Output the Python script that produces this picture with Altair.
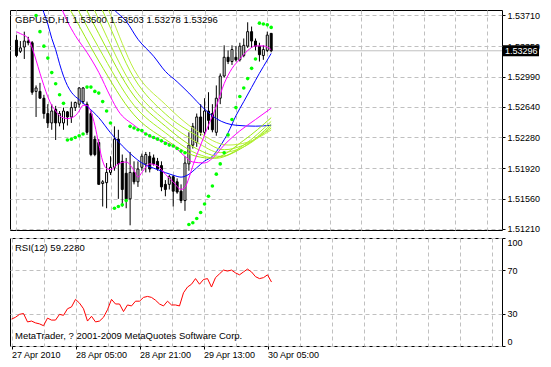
import altair as alt
import pandas as pd

symbol = "GBPUSD,H1"

opens = [1.5342, 1.5329, 1.5334, 1.5341, 1.5339, 1.5282, 1.5282, 1.5274, 1.5256, 1.5245,
         1.5261, 1.5245, 1.5245, 1.5258, 1.5252, 1.5263, 1.5267, 1.5270, 1.5267, 1.5256,
         1.5226, 1.5222, 1.5174, 1.5175, 1.5187, 1.5193, 1.5226, 1.5200, 1.5186, 1.5156,
         1.5187, 1.5176, 1.5193, 1.5197, 1.5206, 1.5204, 1.5200, 1.5195, 1.5173, 1.5173,
         1.5182, 1.5176, 1.5165, 1.5154, 1.5197, 1.5219, 1.5222, 1.5252, 1.5234, 1.5259,
         1.5256, 1.5234, 1.5274, 1.5300, 1.5322, 1.5317, 1.5322, 1.5319, 1.5324, 1.5335,
         1.5352, 1.5341, 1.5335, 1.5324, 1.5330, 1.53500]
highs = [1.5348, 1.5341, 1.5352, 1.5346, 1.5341, 1.5289, 1.5292, 1.5278, 1.5267, 1.5267,
         1.5265, 1.5259, 1.5263, 1.5259, 1.5270, 1.5270, 1.5287, 1.5287, 1.5270, 1.5259,
         1.5230, 1.5226, 1.5178, 1.5198, 1.5206, 1.5241, 1.5237, 1.5208, 1.5204, 1.5211,
         1.5200, 1.5200, 1.5209, 1.5211, 1.5211, 1.5208, 1.5204, 1.5200, 1.5178, 1.5184,
         1.5184, 1.5180, 1.5173, 1.5206, 1.5234, 1.5245, 1.5256, 1.5267, 1.5274, 1.5281,
         1.5267, 1.5289, 1.5303, 1.5336, 1.5330, 1.5336, 1.5335, 1.5339, 1.5344, 1.5363,
         1.5358, 1.5344, 1.5339, 1.5336, 1.5352, 1.53503]
lows = [1.5322, 1.5327, 1.5320, 1.5336, 1.5278, 1.5252, 1.5274, 1.5250, 1.5239, 1.5237,
        1.5225, 1.5241, 1.5237, 1.5242, 1.5245, 1.5259, 1.5263, 1.5267, 1.5231, 1.5206,
        1.5206, 1.5173, 1.5147, 1.5145, 1.5184, 1.5189, 1.5156, 1.5147, 1.5145, 1.5125,
        1.5173, 1.5170, 1.5189, 1.5187, 1.5187, 1.5195, 1.5189, 1.5165, 1.5159, 1.5167,
        1.5147, 1.5162, 1.5151, 1.5142, 1.5189, 1.5215, 1.5217, 1.5230, 1.5230, 1.5237,
        1.5234, 1.5230, 1.5267, 1.5298, 1.5314, 1.5313, 1.5317, 1.5317, 1.5322, 1.5333,
        1.5333, 1.5330, 1.5317, 1.5319, 1.5328, 1.53278]
closes = [1.5324, 1.5333, 1.5341, 1.5339, 1.5281, 1.5286, 1.5274, 1.5256, 1.5245, 1.5259,
          1.5245, 1.5256, 1.5259, 1.5252, 1.5263, 1.5269, 1.5286, 1.5286, 1.5234, 1.5208,
          1.5208, 1.5173, 1.5176, 1.5187, 1.5193, 1.5226, 1.5197, 1.5167, 1.5156, 1.5187,
          1.5176, 1.5191, 1.5206, 1.5208, 1.5191, 1.5197, 1.5191, 1.5170, 1.5167, 1.5182,
          1.5165, 1.5164, 1.5154, 1.5198, 1.5219, 1.5241, 1.5252, 1.5234, 1.5259, 1.5248,
          1.5237, 1.5274, 1.5300, 1.5322, 1.5317, 1.5331, 1.5319, 1.5335, 1.5336, 1.5352,
          1.5341, 1.5335, 1.5325, 1.5331, 1.5348, 1.53296]

rsi = [24.9, 26.6, 29.3, 30.1, 22.3, 23.1, 21.4, 20.5, 18.8, 25.8,
       24.0, 24.0, 29.3, 28.4, 34.5, 36.2, 43.2, 39.7, 34.5, 23.1,
       27.5, 22.3, 23.1, 26.6, 33.6, 43.2, 38.9, 38.9, 31.9, 38.0,
       37.1, 41.5, 41.5, 45.0, 45.9, 45.0, 42.4, 38.9, 37.1, 41.5,
       38.0, 38.0, 37.1, 49.3, 54.6, 57.2, 62.4, 57.2, 61.6, 62.4,
       54.6, 63.3, 66.8, 70.3, 69.4, 70.3, 67.7, 65.9, 68.6, 71.2,
       68.6, 64.2, 62.4, 63.3, 65.9, 59.228]

sar_first_bar = 5
sar = [1.5371, 1.5352, 1.5335, 1.5321, 1.5304, 1.5291, 1.5278, 1.5268, 1.5225, 1.5226,
       1.5228, 1.5230, 1.5232, 1.5287, 1.5287, 1.5282, 1.5280, 1.5270, 1.5259, 1.5245,
       1.5145, 1.5147, 1.5149, 1.5154, 1.5241, 1.5239, 1.5237, 1.5236, 1.5232, 1.5230,
       1.5228, 1.5226, 1.5224, 1.5221, 1.5219, 1.5218, 1.5215, 1.5212, 1.5210, 1.5126,
       1.5128, 1.5133, 1.5140, 1.5150, 1.5159, 1.5171, 1.5185, 1.5197, 1.5210, 1.5231,
       1.5249, 1.5263, 1.5276, 1.5286, 1.5297, 1.5309, 1.5320, 1.5362, 1.5361, 1.5360,
       1.5357]

blue_slow_bar = [23, 25, 28, 31, 35, 38, 41, 44, 48, 51, 56, 61, 65]
blue_slow = [1.53885, 1.53774, 1.53641, 1.53431, 1.53232, 1.53054, 1.52933, 1.52800,
             1.52612, 1.52501, 1.52423, 1.52412, 1.52423]

blue_bar = [6, 7, 8, 9, 10, 11, 12, 13, 14, 16, 18, 21, 24, 28, 32, 36, 40, 42, 44, 46,
            48, 50, 52, 54, 56, 58, 60, 62, 64, 65]
blue = [1.53885, 1.53741, 1.53608, 1.53442, 1.53309, 1.53143, 1.52999, 1.52888, 1.52811,
        1.52722, 1.52645, 1.52512, 1.52335, 1.52136, 1.51981, 1.51903, 1.51837, 1.51815,
        1.51848, 1.51925, 1.52003, 1.52058, 1.52180, 1.52335, 1.52534, 1.52700, 1.52866,
        1.53032, 1.53187, 1.53265]

mag_fast_bar = [0, 1, 3, 4, 5, 6, 7, 8, 9, 10, 11, 13, 15, 16, 17, 18, 19, 20, 21, 22,
                23, 24, 26, 28, 30, 31, 32, 34, 36, 38, 40, 42, 43, 44, 45, 47, 49, 51, 53,
                55, 57, 59, 61, 63, 65]
mag_fast = [1.53519, 1.53497, 1.53442, 1.53331, 1.53187, 1.53032, 1.52888, 1.52756, 1.52656,
            1.52590, 1.52534, 1.52501, 1.52534, 1.52590, 1.52656, 1.52656, 1.52578, 1.52423,
            1.52202, 1.52003, 1.51914, 1.51903, 1.51970, 1.51992, 1.51892, 1.51815, 1.51870,
            1.51970, 1.51947, 1.51848, 1.51759, 1.51671, 1.51693, 1.51804, 1.51947, 1.52191,
            1.52423, 1.52645, 1.52911, 1.53088, 1.53198, 1.53298, 1.53353, 1.53353, 1.53309]

mag_slow_bar = [11, 12, 13, 15, 18, 21, 24, 26, 30, 33, 36, 40, 43, 45, 48, 50, 53, 57, 61, 65]
mag_slow = [1.53863, 1.53741, 1.53641, 1.53475, 1.53276, 1.53043, 1.52756, 1.52590, 1.52423,
            1.52324, 1.52257, 1.52180, 1.52058, 1.51992, 1.51981, 1.52036, 1.52191, 1.52357,
            1.52490, 1.52623]

fan1_bar = [12, 14, 21, 30, 38, 46, 50, 58, 65]
fan1 = [1.53907, 1.53752, 1.53176, 1.52545, 1.52257, 1.52058, 1.52036, 1.52246, 1.52512]
fan2_bar = [14, 16, 21, 30, 38, 46, 51, 58, 65]
fan2 = [1.53929, 1.53752, 1.53331, 1.52656, 1.52335, 1.52091, 1.52036, 1.52191, 1.52468]
fan3_bar = [16, 18, 21, 30, 38, 46, 52, 58, 65]
fan3 = [1.53940, 1.53763, 1.53497, 1.52767, 1.52412, 1.52147, 1.52058, 1.52169, 1.52434]
fan4_bar = [18, 20, 21, 30, 38, 46, 52, 58, 65]
fan4 = [1.53951, 1.53763, 1.53663, 1.52855, 1.52479, 1.52224, 1.52102, 1.52169, 1.52412]
fan5_bar = [20, 22, 30, 38, 46, 53, 58, 65]
fan5 = [1.53951, 1.53763, 1.52977, 1.52556, 1.52302, 1.52136, 1.52191, 1.52390]
fan6_bar = [22, 24, 30, 38, 46, 54, 59, 65]
fan6 = [1.53929, 1.53719, 1.53077, 1.52667, 1.52357, 1.52191, 1.52224, 1.52368]

price_ticks = [1.53710, 1.53350, 1.52990, 1.52640, 1.52280, 1.51920, 1.51560, 1.51210]
rsi_ticks = [0, 30, 70, 100]
time_tick_bars = [0, 16, 32, 48, 64]
time_tick_labels = ["27 Apr 2010", "28 Apr 05:00", "28 Apr 21:00", "29 Apr 13:00", "30 Apr 05:00"]
grid_bars = list(range(0, 123, 8))
copyright_text = "MetaTrader, ? 2001-2009 MetaQuotes Software Corp."

# ---------------------------------------------------------------- layout
FONT = "Liberation Sans"
W, HM, HR = 492, 220, 108
x_dom = [-0.375, -0.375 + W / 4]
p_dom = [1.51195, 1.53774]
GRID = dict(grid=True, gridColor="#C0C0C0", gridDash=[4, 3], gridWidth=1)

xs = alt.Scale(domain=x_dom, nice=False, zero=False)
ps = alt.Scale(domain=p_dom, nice=False, zero=False)

x_main_axis = alt.Axis(values=grid_bars, labels=False, ticks=False, domain=False,
                       title=None, **GRID)
p_axis = alt.Axis(orient="right", values=price_ticks, format=".5f", title=None,
                  domain=False, tickSize=3, tickColor="black", labelColor="black",
                  labelFont=FONT, labelFontSize=9, labelPadding=2, **GRID)


def X(field):
    return alt.X(field, type="quantitative", scale=xs, axis=x_main_axis)


def P(field):
    return alt.Y(field, type="quantitative", scale=ps, axis=p_axis)


n = len(opens)
cdf = pd.DataFrame({"i": list(range(n)), "o": opens, "h": highs, "l": lows, "c": closes})
cdf["kind"] = ["bull" if c >= o else "bear" for o, c in zip(opens, closes)]

series = [
    ("blue_slow", blue_slow_bar, blue_slow, "#0000FF"),
    ("blue", blue_bar, blue, "#0000FF"),
    ("fan1", fan1_bar, fan1, "#9BEA10"),
    ("fan2", fan2_bar, fan2, "#A6F020"),
    ("fan3", fan3_bar, fan3, "#9BEA10"),
    ("fan4", fan4_bar, fan4, "#B2F030"),
    ("fan5", fan5_bar, fan5, "#A6F020"),
    ("fan6", fan6_bar, fan6, "#BCEE40"),
    ("mag_slow", mag_slow_bar, mag_slow, "#FF00FF"),
    ("mag_fast", mag_fast_bar, mag_fast, "#FF00FF"),
]
rows = []
for name, bars, vals, _ in series:
    for b, v in zip(bars, vals):
        rows.append({"i": b, "v": v, "s": name})
ldf = pd.DataFrame(rows)

sdf = pd.DataFrame({"i": list(range(sar_first_bar, sar_first_bar + len(sar))), "v": sar})
bid = closes[-1]
bdf = pd.DataFrame({"p": [bid], "lbl": [f"{bid:.5f}"]})
title_text = f"{symbol}  {opens[-1]:.5f} {highs[-1]:.5f} {lows[-1]:.5f} {closes[-1]:.5f}"

bid_line = alt.Chart(bdf).mark_rule(color="#C0C0C0", strokeWidth=1).encode(y=P("p"))
wicks = alt.Chart(cdf).mark_rule(color="black", strokeWidth=1).encode(
    x=X("i"), y=P("l"), y2=alt.Y2("h"))
bodies = alt.Chart(cdf).mark_bar(size=2, stroke="black", strokeWidth=1).encode(
    x=X("i"), y=P("o"), y2=alt.Y2("c"),
    fill=alt.Fill("kind:N", scale=alt.Scale(domain=["bull", "bear"], range=["white", "black"]),
                  legend=None))
lines = alt.Chart(ldf).mark_line(strokeWidth=1, clip=True, interpolate="monotone").encode(
    x=X("i"), y=P("v"),
    color=alt.Color("s:N", scale=alt.Scale(domain=[s[0] for s in series],
                                           range=[s[3] for s in series]), legend=None))
sar_pts = alt.Chart(sdf).mark_circle(size=13, color="#00FF00", opacity=1, clip=True).encode(
    x=X("i"), y=P("v"))
tag_box = alt.Chart(bdf).mark_tick(orient="horizontal", size=36, thickness=11,
                                   color="black", opacity=1).encode(
    x=alt.value(W + 19), y=P("p"))
tag_txt = alt.Chart(bdf).mark_text(align="left", baseline="middle", color="white",
                                   font=FONT, fontSize=9).encode(
    x=alt.value(W + 3), y=P("p"), text="lbl:N")
title = alt.Chart(pd.DataFrame({"t": [title_text]})).mark_text(
    align="left", baseline="middle", font=FONT, fontSize=9.5, color="black").encode(
    x=alt.value(5), y=alt.value(10), text="t:N")

main = alt.layer(bid_line, wicks, bodies, lines, sar_pts, tag_box, tag_txt, title).properties(
    width=W, height=HM)

# ---------------------------------------------------------------- RSI
label_expr = "".join(f"datum.value == {b} ? '{t}' : " for b, t in zip(time_tick_bars, time_tick_labels)) + "''"
tick_test = " || ".join(f"datum.value == {b}" for b in time_tick_bars)
x_rsi_axis = alt.Axis(values=grid_bars, title=None, domain=False, labelExpr=label_expr,
                      labelAlign="left", labelFlush=False, labelOverlap=False, labelPadding=1,
                      tickSize=3,
                      tickColor={"condition": {"test": tick_test, "value": "black"},
                                 "value": "transparent"},
                      labelFont=FONT, labelFontSize=9, labelColor="black", **GRID)
r_axis = alt.Axis(orient="right", values=rsi_ticks, title=None, domain=False, tickSize=3,
                  tickColor="black", labelFlush=True, labelFont=FONT, labelFontSize=9,
                  labelColor="black", labelPadding=2, **GRID)
rdf = pd.DataFrame({"i": list(range(len(rsi))), "r": rsi})
rsi_line = alt.Chart(rdf).mark_line(color="#FF0000", strokeWidth=1).encode(
    x=alt.X("i:Q", scale=alt.Scale(domain=x_dom, nice=False, zero=False), axis=x_rsi_axis),
    y=alt.Y("r:Q", scale=alt.Scale(domain=[0, 100], nice=False), axis=r_axis))
rsi_title = alt.Chart(pd.DataFrame({"t": [f"RSI(12) {rsi[-1]:.4f}"]})).mark_text(
    align="left", baseline="middle", font=FONT, fontSize=9.5, color="black").encode(
    x=alt.value(5), y=alt.value(10), text="t:N")
rsi_copy = alt.Chart(pd.DataFrame({"t": [copyright_text]})).mark_text(
    align="left", baseline="middle", font=FONT, fontSize=9.5, color="black").encode(
    x=alt.value(5), y=alt.value(HR - 10), text="t:N")
rsi_chart = alt.layer(rsi_line, rsi_title, rsi_copy).properties(width=W, height=HR)

chart = alt.vconcat(main, rsi_chart, spacing=2).properties(
    padding={"left": 1, "top": 1, "right": 0, "bottom": 0},
    background="white",
).configure_view(stroke="black", strokeWidth=1)

chart.save("out.html", embed_options={"renderer": "svg", "actions": False})
